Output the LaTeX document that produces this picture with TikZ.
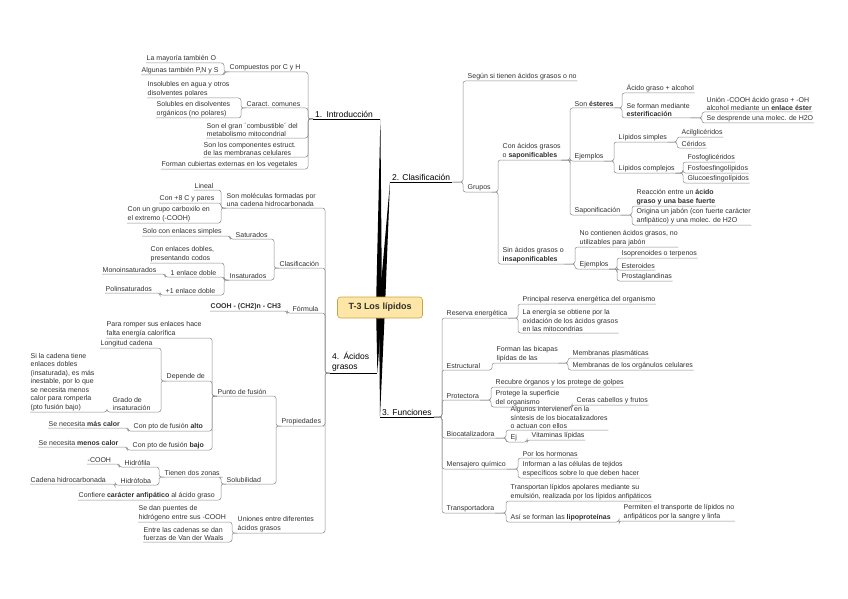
\documentclass[tikz,border=0pt]{standalone}
\usepackage{fontspec}
\setmainfont{Liberation Sans}
\usetikzlibrary{positioning}
\definecolor{rootFill}{HTML}{FDE6A6}
\definecolor{rootLine}{HTML}{C9A24A}
\definecolor{lnkGray}{HTML}{8A8A8A}
\definecolor{txtGray}{HTML}{303030}

\begin{document}
\begin{tikzpicture}[x=1pt,y=-1pt,
    tp/.style={anchor=south west,inner xsep=0.5pt,inner ysep=1.2pt,align=left,
               text=txtGray,font=\fontsize{7}{8.5}\selectfont},
    mt/.style={tp,inner xsep=2pt,text=black,font=\fontsize{8.5}{10}\selectfont},
    lk/.style={draw=lnkGray,line width=0.5pt,rounded corners=2.5pt}]
  \useasboundingbox (0,0) rectangle (848,599);
  \coordinate (rc) at (380,307.5);

  % 1. Introduccion
  \node[mt,text width=63pt] (intro) at (313,119) {1. Introducción};
  \node[tp] (comp) at (229,72) {Compuestos por C y H};
  \node[tp] (mayo) at (146,63) {La mayoría también O};
  \node[tp] (algu) at (141,75) {Algunas también P,N y S};
  \node[tp] (carc) at (246,108) {Caract. comunes};
  \node[tp] (inso) at (147,98) {Insolubles en agua y otros\\disolventes polares};
  \node[tp] (solu) at (156,118) {Solubles en disolventes\\orgánicos (no polares)};
  \node[tp] (comb) at (206,138) {Son el gran ´combustible´ del\\metabolismo mitocondrial};
  \node[tp] (memb) at (203,157) {Son los componentes estruct.\\de las membranas celulares};
  \node[tp] (cub) at (161,169) {Forman cubiertas externas en los vegetales};

  % 2. Clasificacion
  \node[mt] (cla) at (390,182) {2. Clasificación};
  \node[tp] (segun) at (467,81) {Según si tienen ácidos grasos o no};
  \node[tp] (grupos) at (467,192) {Grupos};
  \node[tp] (consap) at (502,160) {Con ácidos grasos\\o \textbf{saponificables}};
  \node[tp] (ester) at (574,108) {Son \textbf{ésteres}};
  \node[tp] (acal) at (626,93) {Ácido graso + alcohol};
  \node[tp] (esterif) at (626,118) {Se forman mediante\\\textbf{esterificación}};
  \node[tp] (union) at (706,112) {Unión -COOH ácido graso + -OH\\alcohol mediante un \textbf{enlace éster}};
  \node[tp] (despr) at (706,123) {Se desprende una molec. de H2O};
  \node[tp] (ejA) at (574,161) {Ejemplos};
  \node[tp] (lsim) at (618,142) {Lípidos simples};
  \node[tp] (acil) at (681,137) {Acilglicéridos};
  \node[tp] (ceri) at (681,148) {Céridos};
  \node[tp] (lcom) at (618,173) {Lípidos complejos};
  \node[tp] (fgli) at (687,162) {Fosfoglicéridos};
  \node[tp] (fesf) at (687,173) {Fosfoesfingolípidos};
  \node[tp] (gesf) at (687,183) {Glucoesfingolípidos};
  \node[tp] (sapon) at (574,215) {Saponificación};
  \node[tp] (reac) at (636,206) {Reacción entre un \textbf{ácido}\\\textbf{graso y una base fuerte}};
  \node[tp] (orig) at (636,225) {Origina un jabón (con fuerte carácter\\anfipático) y una molec. de H2O};
  \node[tp] (sinsap) at (502,264) {Sin ácidos grasos o\\\textbf{insaponificables}};
  \node[tp] (nocont) at (579,247) {No contienen ácidos grasos, no\\utilizables para jabón};
  \node[tp] (ejB) at (579,269) {Ejemplos};
  \node[tp] (isop) at (621,258) {Isoprenoides o terpenos};
  \node[tp] (este) at (621,270) {Esteroides};
  \node[tp] (pros) at (621,281) {Prostaglandinas};

  % 3. Funciones
  \node[mt] (fun) at (380,417) {3. Funciones};
  \node[tp] (reser) at (446,318) {Reserva energética};
  \node[tp] (princ) at (522,304) {Principal reserva energética del organismo};
  \node[tp] (oxid) at (522,333) {La energía se obtiene por la\\oxidación de los ácidos grasos\\en las mitocondrias};
  \node[tp] (estru) at (446,370) {Estructural};
  \node[tp] (bica) at (496,363) {Forman las bicapas\\lipídas de las};
  \node[tp] (mplas) at (572,358) {Membranas plasmáticas};
  \node[tp] (morg) at (572,370) {Membranas de los orgánulos celulares};
  \node[tp] (prot) at (446,400) {Protectora};
  \node[tp] (recu) at (495,387) {Recubre órganos y los protege de golpes};
  \node[tp] (supe) at (495,407) {Protege la superficie\\del organismo};
  \node[tp] (ceras) at (576,405) {Ceras cabellos y frutos};
  \node[tp] (bioc) at (446,438) {Biocatalizadora};
  \node[tp] (algun) at (510,430) {Algunos intervienen en la\\síntesis de los biocatalizadores\\o actuan con ellos};
  \node[tp] (ej) at (510,442) {Ej};
  \node[tp] (vita) at (531,440) {Vitaminas lípidas};
  \node[tp] (mens) at (446,469) {Mensajero químico};
  \node[tp] (horm) at (522,458) {Por los hormonas};
  \node[tp] (info) at (522,478) {Informan a las células de tejidos\\específicos sobre lo que deben hacer};
  \node[tp] (trans) at (446,513) {Transportadora};
  \node[tp] (tran1) at (510,501) {Transportan lípidos apolares mediante su\\emulsión, realizada por los lípidos anfipáticos};
  \node[tp] (lipo) at (510,522) {Así se forman las \textbf{lipoproteínas}};
  \node[tp] (perm) at (623,521) {Permiten el transporte de lípidos no\\anfipáticos por la sangre y linfa};

  % 4. Acidos grasos
  \node[mt,text width=43pt] (aci) at (330,373) {4. Ácidos\\grasos};
  \node[tp] (mol) at (226,208) {Son moléculas formadas por\\una cadena hidrocarbonada};
  \node[tp] (line) at (194,190) {Lineal};
  \node[tp] (pares) at (159,203) {Con +8 C y pares};
  \node[tp] (carbo) at (127,223) {Con un grupo carboxilo en\\el extremo (-COOH)};
  \node[tp] (clas) at (279,268) {Clasificación};
  \node[tp] (satu) at (235,239) {Saturados};
  \node[tp] (simp) at (142,236) {Solo con enlaces simples};
  \node[tp] (insa) at (229,280) {Insaturados};
  \node[tp] (dobl) at (150,263) {Con enlaces dobles,\\presentando codos};
  \node[tp] (mono1) at (170,277) {1 enlace doble};
  \node[tp] (mono) at (102,274) {Monoinsaturados};
  \node[tp] (poli1) at (165,295) {+1 enlace doble};
  \node[tp] (poli) at (105,293) {Polinsaturados};
  \node[tp] (form) at (292,313) {Fórmula};
  \node[tp] (cooh) at (210,311) {\textbf{COOH - (CH2)n - CH3}};
  \node[tp] (prop) at (281,426) {Propiedades};
  \node[tp] (pfus) at (217,396) {Punto de fusión};
  \node[tp] (romp) at (106,338) {Para romper sus enlaces hace\\falta energía calorífica};
  \node[tp] (dep) at (166,381) {Depende de};
  \node[tp] (long) at (100,348) {Longitud cadena};
  \node[tp] (grado) at (112,412) {Grado de\\insaturación};
  \node[tp] (cadt) at (30,412) {Si la cadena tiene\\enlaces dobles\\(insaturada), es más\\inestable, por lo que\\se necesita menos\\calor para romperla\\(pto fusión bajo)};
  \node[tp] (alto) at (133,431) {Con pto de fusión \textbf{alto}};
  \node[tp] (mcal) at (48,428) {Se necesita \textbf{más calor}};
  \node[tp] (bajo) at (132,450) {Con pto de fusión \textbf{bajo}};
  \node[tp] (mecal) at (38,447) {Se necesita \textbf{menos calor}};
  \node[tp] (solub) at (226,484) {Solubilidad};
  \node[tp] (zonas) at (164,477) {Tienen dos zonas};
  \node[tp] (hfila) at (124,467) {Hidrófila};
  \node[tp] (cooh2) at (87,464) {-COOH};
  \node[tp] (hfoba) at (120,485) {Hidrófoba};
  \node[tp] (cadh) at (30,484) {Cadena hidrocarbonada};
  \node[tp] (anfi) at (78,500) {Confiere \textbf{carácter anfipático} al ácido graso};
  \node[tp] (uni) at (237,533) {Uniones entre diferentes\\ácidos grasos};
  \node[tp] (puen) at (138,522) {Se dan puentes de\\hidrógeno entre sus -COOH};
  \node[tp] (vdw) at (143,542) {Entre las cadenas se dan\\fuerzas de Van der Waals};

  % ramas a la izquierda
  \foreach \pn/\cn in {intro/comp,intro/carc,intro/comb,intro/memb,intro/cub,
      comp/mayo,comp/algu,carc/inso,carc/solu,
      aci/mol,aci/clas,aci/form,aci/prop,aci/uni,
      mol/line,mol/pares,mol/carbo,clas/satu,clas/insa,satu/simp,
      insa/dobl,insa/mono1,insa/poli1,mono1/mono,poli1/poli,form/cooh,
      prop/pfus,prop/solub,pfus/romp,pfus/dep,pfus/alto,pfus/bajo,
      dep/long,dep/grado,grado/cadt,alto/mcal,bajo/mecal,
      solub/zonas,solub/anfi,zonas/hfila,zonas/hfoba,hfila/cooh2,hfoba/cadh,
      uni/puen,uni/vdw}
    \draw[lk] (\pn.south west) -- ++(-5,0) |- (\cn.south east) -- (\cn.south west);

  % ramas a la derecha
  \foreach \pn/\cn in {cla/segun,cla/grupos,grupos/consap,grupos/sinsap,
      consap/ester,consap/ejA,consap/sapon,ester/acal,ester/esterif,
      esterif/union,esterif/despr,ejA/lsim,ejA/lcom,lsim/acil,lsim/ceri,
      lcom/fgli,lcom/fesf,lcom/gesf,sapon/reac,sapon/orig,
      sinsap/nocont,sinsap/ejB,ejB/isop,ejB/este,ejB/pros,
      fun/reser,fun/estru,fun/prot,fun/bioc,fun/mens,fun/trans,
      reser/princ,reser/oxid,estru/bica,bica/mplas,bica/morg,
      prot/recu,prot/supe,supe/ceras,bioc/algun,bioc/ej,ej/vita,
      mens/horm,mens/info,trans/tran1,trans/lipo,lipo/perm}
    \draw[lk] (\pn.south east) -| ([xshift=-4pt]\cn.south west) -- (\cn.south east);

  \foreach \m in {intro,cla,fun,aci}
    \draw[line width=0.8pt] (\m.south west) -- (\m.south east);

  % ramas gruesas del centro
  \fill ([xshift=-4]rc) -- (intro.south east) -- ([xshift=2]rc) -- cycle;
  \fill ([xshift=-1]rc) -- (cla.south west) -- ([xshift=5]rc) -- cycle;
  \fill ([xshift=-4]rc) -- (aci.south east) -- ([xshift=2]rc) -- cycle;
  \fill ([xshift=-1]rc) -- (fun.south west) -- ([xshift=5]rc) -- cycle;

  \node[draw=rootLine,fill=rootFill,rounded corners=3pt,line width=0.6pt,
        minimum width=85pt,minimum height=21pt,text=txtGray,
        font=\fontsize{9}{11}\selectfont\bfseries] (root) at (rc) {T-3 Los lípidos};
\end{tikzpicture}
\end{document}
